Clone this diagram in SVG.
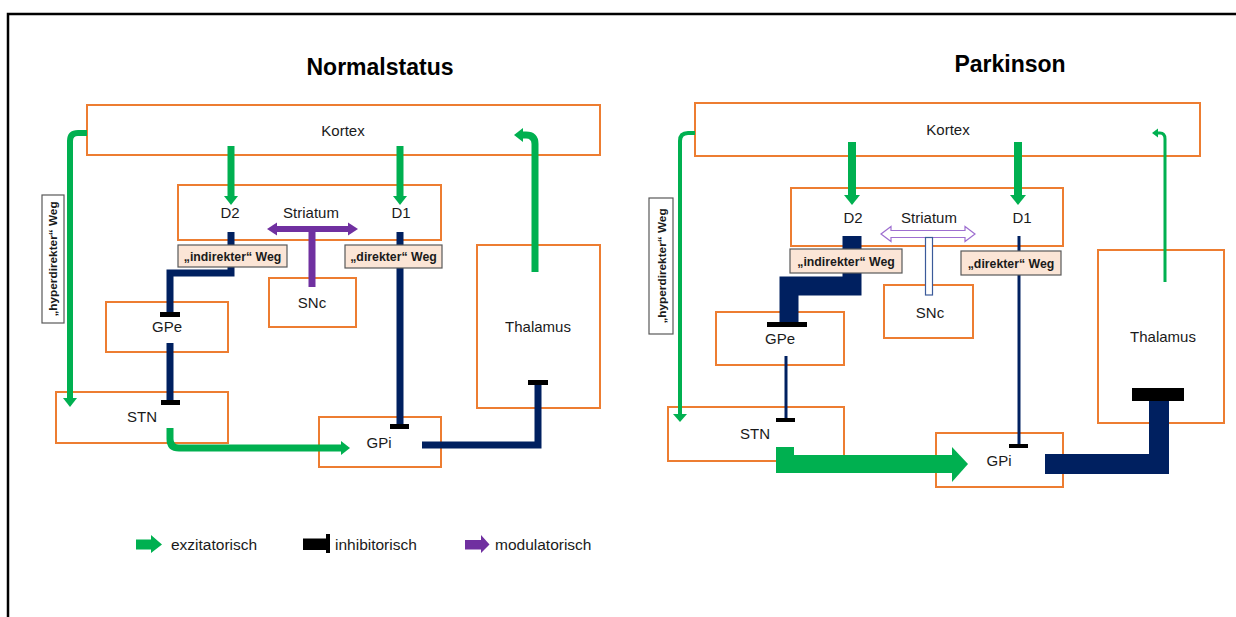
<svg xmlns="http://www.w3.org/2000/svg" width="1236" height="617" viewBox="0 0 1236 617">
<style>
.box{fill:#fff;stroke:#ED7D31;stroke-width:2}
.t{font-family:"Liberation Sans",Arial,sans-serif;font-size:15px;fill:#1a1a1a;text-anchor:middle}
.title{font-family:"Liberation Sans",Arial,sans-serif;font-size:23px;font-weight:bold;fill:#000;text-anchor:middle}
.lbl{fill:#FBE5D6;stroke:#595959;stroke-width:1.2}
.lt{font-family:"Liberation Sans",Arial,sans-serif;font-size:12.3px;font-weight:bold;fill:#1a1a1a;text-anchor:middle}
.ht{font-family:"Liberation Sans",Arial,sans-serif;font-size:11.8px;font-weight:bold;fill:#1a1a1a;text-anchor:middle}
.hb{fill:#fff;stroke:#595959;stroke-width:1.2}
.g{fill:none;stroke:#00B050;stroke-linejoin:miter}
.gf{fill:#00B050}
.n{fill:none;stroke:#002060;stroke-linejoin:miter}
.bar{fill:#000}
.p{fill:none;stroke:#7030A0}
.pf{fill:#7030A0}
.leg{font-family:"Liberation Sans",Arial,sans-serif;font-size:15.5px;fill:#1a1a1a}
</style>
<path d="M8,617 V14 H1236" fill="none" stroke="#000" stroke-width="2.5"/>
<text class="title" x="380" y="75">Normalstatus</text>
<text class="title" x="1010" y="72">Parkinson</text>

<!-- Left panel nodes -->
<g id="L-Kortex"><rect class="box" x="87" y="105" width="513" height="50"/><text class="t" x="343" y="136">Kortex</text></g>
<g id="L-Striatum"><rect class="box" x="178" y="185" width="263" height="55"/><text class="t" x="230" y="218">D2</text><text class="t" x="311" y="218">Striatum</text><text class="t" x="401" y="218">D1</text></g>
<g id="L-SNc"><rect class="box" x="269" y="278" width="87" height="49"/><text class="t" x="312" y="308">SNc</text></g>
<g id="L-GPe"><rect class="box" x="106" y="302" width="122" height="50"/><text class="t" x="167" y="332">GPe</text></g>
<g id="L-STN"><rect class="box" x="56" y="392" width="172" height="51"/><text class="t" x="142" y="422">STN</text></g>
<g id="L-GPi"><rect class="box" x="319" y="417" width="122" height="50"/><text class="t" x="379" y="448">GPi</text></g>
<g id="L-Thalamus"><rect class="box" x="477" y="245" width="123" height="163"/><text class="t" x="538" y="332">Thalamus</text></g>

<!-- Right panel nodes -->
<g id="R-Kortex"><rect class="box" x="695" y="103" width="505" height="53"/><text class="t" x="948" y="135">Kortex</text></g>
<g id="R-Striatum"><rect class="box" x="791" y="188" width="272" height="58"/><text class="t" x="853" y="223">D2</text><text class="t" x="929" y="223">Striatum</text><text class="t" x="1022" y="223">D1</text></g>
<g id="R-SNc"><rect class="box" x="884" y="285" width="89" height="53"/><text class="t" x="930" y="318">SNc</text></g>
<g id="R-GPe"><rect class="box" x="716" y="312" width="128" height="53"/><text class="t" x="780" y="344">GPe</text></g>
<g id="R-STN"><rect class="box" x="668" y="407" width="176" height="54"/><text class="t" x="755" y="439">STN</text></g>
<g id="R-GPi"><rect class="box" x="936" y="433" width="127" height="54"/><text class="t" x="999" y="466">GPi</text></g>
<g id="R-Thalamus"><rect class="box" x="1098" y="250" width="126" height="173"/><text class="t" x="1163" y="342">Thalamus</text></g>

<g id="connectors">
<!-- Left excitatory -->
<path class="g" stroke-width="7" d="M231,146 V196"/><polygon class="gf" points="224,196 238,196 231,205"/>
<path class="g" stroke-width="7" d="M400,146 V196"/><polygon class="gf" points="393,196 407,196 400,205"/>
<path class="g" stroke-width="6" d="M87,133 H78 Q70,133 70,141 V398"/><polygon class="gf" points="63,398 77,398 70,407"/>
<path class="g" stroke-width="7" d="M535,272 V144 Q535,135 526,135 H523"/><polygon class="gf" points="523,128 523,142 514,135"/>
<path class="g" stroke-width="7" d="M170,428 V439 Q170,448 179,448 H341"/><polygon class="gf" points="341,441 341,455 350,448"/>
<!-- Left inhibitory -->
<path class="n" stroke-width="7" d="M231,232 V273 H170 V314"/><rect class="bar" x="160" y="312" width="20" height="5"/>
<path class="n" stroke-width="7" d="M170,343 V402"/><rect class="bar" x="161" y="400" width="19" height="5"/>
<path class="n" stroke-width="7" d="M400,232 V426"/><rect class="bar" x="390" y="424" width="19" height="5"/>
<path class="n" stroke-width="7" d="M422,445 H538 V382"/><rect class="bar" x="528" y="380" width="20" height="5"/>
<!-- Left modulatory -->
<path class="p" stroke-width="6" d="M276,229 H349"/><polygon class="pf" points="277,222.5 277,235.5 267,229"/><polygon class="pf" points="348,222.5 348,235.5 358,229"/>
<path class="p" stroke-width="7" d="M312,229 V287"/>

<!-- Right excitatory -->
<path class="g" stroke-width="8" d="M852,142 V195"/><polygon class="gf" points="844,195 860,195 852,205"/>
<path class="g" stroke-width="8" d="M1018,142 V195"/><polygon class="gf" points="1010,195 1026,195 1018,205"/>
<path class="g" stroke-width="4" d="M695,133 H688 Q680,133 680,141 V414"/><polygon class="gf" points="673,414 687,414 680,422"/>
<path class="g" stroke-width="3" d="M1165,282 V139 Q1165,133 1160,133 H1158"/><polygon class="gf" points="1158,128.5 1158,137.5 1152,133"/>
<path class="g" stroke-width="18" d="M785,447 V464 H953"/><polygon class="gf" points="952,447 968,464 952,482"/>
<!-- Right inhibitory -->
<path class="n" stroke-width="19" d="M852,236 V286 H789 V323"/><rect class="bar" x="767" y="322" width="40" height="5"/>
<path class="n" stroke-width="3" d="M786,356 V418"/><rect class="bar" x="776" y="418" width="19" height="4"/>
<path class="n" stroke-width="3" d="M1019,236 V444"/><rect class="bar" x="1009" y="444" width="19" height="4"/>
<path class="n" stroke-width="20" d="M1045,464 H1159 V401"/><rect class="bar" x="1132" y="388" width="52" height="13"/>
<!-- Right modulatory (weak) -->
<polygon points="881,234 891,226.5 891,230.5 965,230.5 965,226.5 975,234 965,241.5 965,237.5 891,237.5 891,241.5" fill="#fff" stroke="#9E6FD0" stroke-width="1.2"/>
<rect x="925.5" y="237.5" width="7" height="57.5" fill="#fff" stroke="#3B5A9A" stroke-width="1.2"/>
</g>

<!-- Pathway labels -->
<g id="L-indirekt"><rect class="lbl" x="178" y="245" width="109" height="22"/><text class="lt" x="232.5" y="260.5">„indirekter“ Weg</text></g>
<g id="L-direkt"><rect class="lbl" x="345" y="245" width="97" height="23"/><text class="lt" x="393.5" y="261">„direkter“ Weg</text></g>
<g id="L-hyper"><rect class="hb" x="42" y="195" width="22" height="128"/><text class="ht" transform="translate(57,259) rotate(-90)">„hyperdirekter“ Weg</text></g>
<g id="R-indirekt"><rect class="lbl" x="790" y="249" width="112" height="24"/><text class="lt" x="846" y="265.5">„indirekter“ Weg</text></g>
<g id="R-direkt"><rect class="lbl" x="961" y="251" width="100" height="24"/><text class="lt" x="1011" y="267.5">„direkter“ Weg</text></g>
<g id="R-hyper"><rect class="hb" x="649" y="198" width="24" height="136"/><text class="ht" transform="translate(665.5,266) rotate(-90)">„hyperdirekter“ Weg</text></g>

<!-- Legend -->
<g id="legend">
<polygon class="gf" points="136,539.5 151,539.5 151,535 162,544.5 151,553 151,549.5 136,549.5"/>
<text class="leg" x="171" y="549.5">exzitatorisch</text>
<rect class="bar" x="303" y="538.5" width="25" height="11.5"/><rect class="bar" x="326" y="534" width="4" height="19"/>
<text class="leg" x="335" y="549.5">inhibitorisch</text>
<polygon class="pf" points="465,540 481,540 481,535 489.5,544.5 481,553 481,549.5 465,549.5"/>
<text class="leg" x="495" y="549.5">modulatorisch</text>
</g>
</svg>
